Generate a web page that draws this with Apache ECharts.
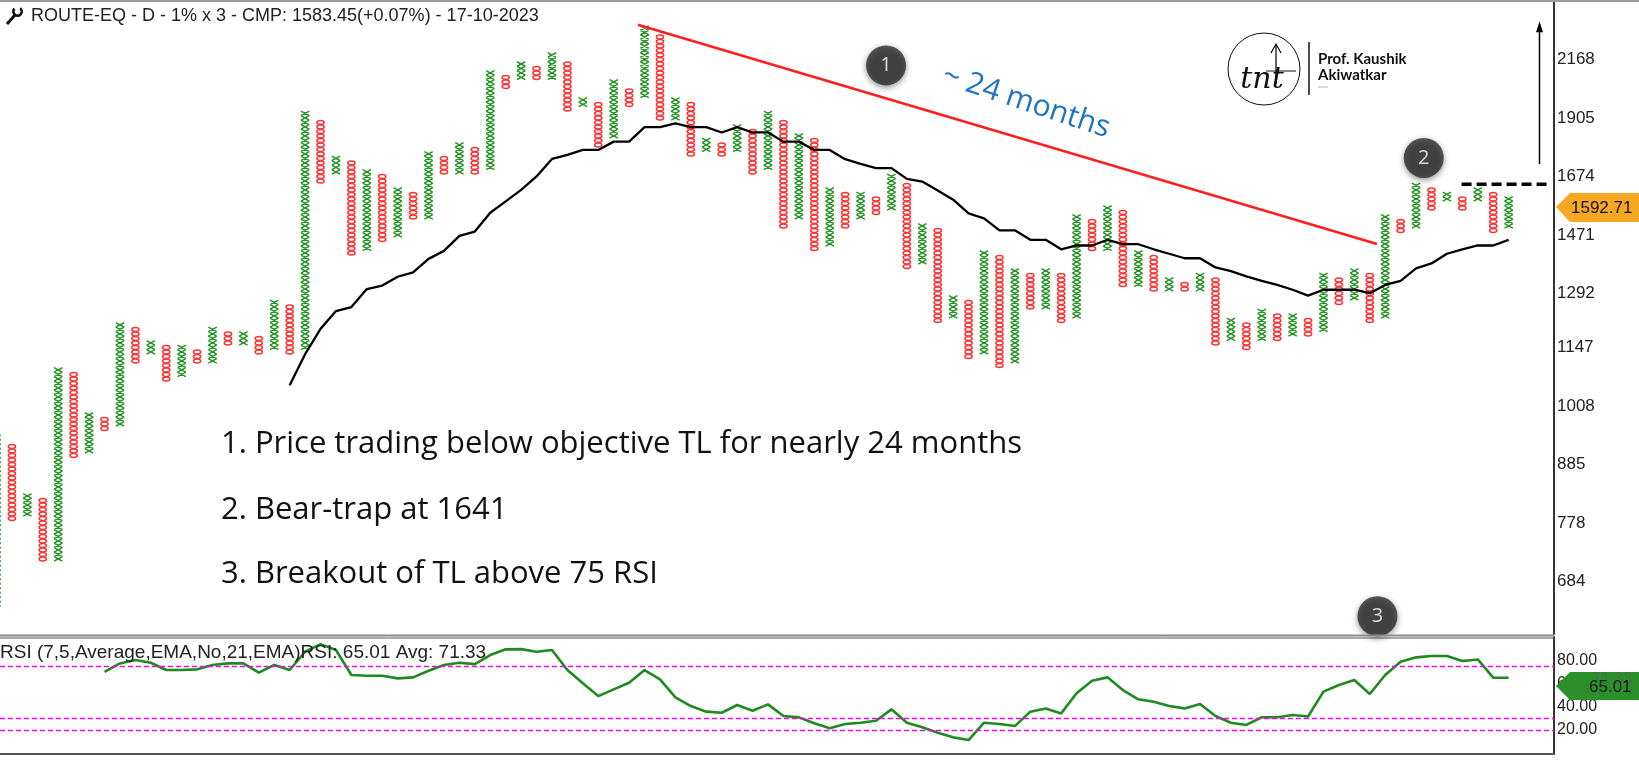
<!DOCTYPE html>
<html><head><meta charset="utf-8">
<script src="https://cdn.jsdelivr.net/npm/echarts@6/dist/echarts.min.js"></script>
<style>html,body{margin:0;padding:0;background:#fff;}#c{width:1639px;height:772px;}</style>
</head><body><div id="c"></div>
<script>
// ---------------- DATA ----------------
// Point & Figure columns (1% box, 3-box reversal). Column 0 is an X column, then they alternate.
const firstColumnIsX = true;
const colLow = [650,783,792,712,716,902,911,957,966,1104,
  1125,1069,1076,1103,1104,1149,1158,1125,1136,1125,
  1136,1655,1674,1413,1425,1455,1468,1517,1528,1674,
  1686,1688,1705,2041,2063,2063,2082,1929,1944,1790,
  1815,1962,1983,1887,1894,1756,1775,1756,1775,1688,
  1705,1499,1517,1425,1437,1499,1517,1543,1555,1367,
  1380,1217,1224,1120,1131,1095,1104,1243,1254,1217,
  1224,1415,1425,1306,1317,1295,1299,1295,1299,1158,
  1168,1146,1161,1168,1179,1179,1190,1264,1277,1214,
  1224,1483,1496,1555,1578,1555,1578,1483,1496];
const colHigh = [941,928,831,823,1099,1084,993,984,1214,1202,
  1166,1154,1154,1145,1202,1192,1192,1177,1276,1265,
  1929,1894,1756,1737,1705,1686,1640,1619,1775,1756,
  1809,1790,2116,2095,2167,2143,2190,2164,2000,1978,
  2063,2041,2325,2298,2000,1978,1830,1810,1880,1863,
  1928,1894,1845,1827,1640,1623,1623,1604,1674,1655,
  1514,1491,1284,1274,1425,1408,1364,1349,1366,1349,
  1545,1525,1572,1555,1425,1411,1339,1326,1353,1339,
  1222,1208,1252,1240,1240,1223,1353,1339,1366,1349,
  1545,1528,1655,1640,1623,1604,1640,1623,1604];
// Moving average (black line), starts at column 19
const maStart = 19;
const maValues = [1055,1130,1195,1243,1254,1305,1315,1341,1354,1395,
  1420,1468,1482,1545,1584,1625,1674,1740,1756,1775,
  1775,1808,1808,1867,1867,1882,1867,1867,1845,1867,
  1845,1845,1808,1808,1775,1775,1739,1721,1705,1705,
  1665,1655,1623,1590,1543,1526,1486,1486,1455,1455,
  1425,1437,1437,1455,1441,1441,1425,1411,1397,1397,
  1369,1358,1342,1329,1317,1303,1286,1303,1303,1303,
  1293,1317,1329,1366,1381,1411,1425,1437,1437,1455];
// RSI, starts at column 7
const rsiStart = 7;
const rsiValues = [70.0,77.3,80.2,77.9,71.6,71.6,72.2,75.9,77.3,77.3,
  69.3,75.9,71.6,87.3,93.9,88.8,67.3,66.7,66.7,64.4,
  65.3,71.0,75.9,77.9,76.7,84.5,89.4,89.6,87.3,88.8,
  71.6,60.2,49.2,55.0,60.7,71.6,63.6,48.1,40.6,35.8,
  34.9,41.5,36.6,42.1,32.1,30.9,25.8,21.5,25.2,26.3,
  28.0,37.8,26.3,22.4,17.7,13.7,11.4,26.3,25.2,23.4,
  35.8,38.6,34.3,51.6,62.4,65.3,54.4,46.4,44.4,40.7,
  38.6,42.4,32.1,26.3,24.4,31.0,31.0,33.0,31.6,53.0,
  58.7,63.0,51.0,67.3,78.7,82.5,83.6,83.6,79.3,80.7,
  65.0,65.01];
const priceTicks = [684,778,885,1008,1147,1292,1471,1674,1905,2168];
const rsiTicks = [20,40,60,80];
const rsiLevels = [75,30,20];
const trendLine = [[41.57,2341],[89.47,1442]];
const bearTrapLine = [[94.95,1645],[100.55,1645]];
const targetArrow = [[100,1721],[100,2331]];
const markers = [{label:'1', col:57.65, price:2140},{label:'2', col:92.5, price:1744},{label:'3', col:89.5, price:633}];
const titleText = 'ROUTE-EQ - D - 1% x 3 - CMP: 1583.45(+0.07%) - 17-10-2023';
const rsiTitle = 'RSI (7,5,Average,EMA,No,21,EMA)RSI: 65.01 Avg: 71.33';
const notes = ['1. Price trading below objective TL for nearly 24 months','2. Bear-trap at 1641','3. Breakout of TL above 75 RSI'];
const lastPrice = '1592.71', lastRsi = '65.01', avgRsi = '71.33';

// ---------------- CHART ----------------
const L = Math.log(1.01);
const ln = Math.log;
const xMin = 0.227, xMax = 100.94;
const pfData = colLow.map((lo, i) => [i, ln(lo), ln(colHigh[i]), ((i % 2 === 0) === firstColumnIsX) ? 1 : 0]);
const maData = maValues.map((v, i) => [maStart + i, ln(v)]);
const rsiData = rsiValues.map((v, i) => [rsiStart + i, v]);

const chart = echarts.init(document.getElementById('c'));
const lblFont = 'Liberation Sans, Arial, sans-serif';
const noteFont = '31px Open Sans, sans-serif';
const tx = (x, y, text, font, fill, extra) => Object.assign({type: 'text', x: x, y: y, z: 20,
  style: {text: text, fill: fill, font: font, textVerticalAlign: 'middle', verticalAlign: 'middle'}}, extra || {});
const option = {
  animation: false,
  backgroundColor: '#fff',
  grid: [
    {left: 0, right: 85, top: 2, height: 632, outerBoundsMode: 'none'},
    {left: 0, right: 85, top: 637, height: 116.3, outerBoundsMode: 'none'}
  ],
  xAxis: [
    {type: 'value', gridIndex: 0, min: xMin, max: xMax, show: false},
    {type: 'value', gridIndex: 1, min: xMin, max: xMax, show: false}
  ],
  yAxis: [
    {type: 'value', gridIndex: 0, position: 'right', min: ln(608.6), max: ln(2462),
      axisLine: {show: true, lineStyle: {color: '#333', width: 2}}, axisTick: {show: false}, splitLine: {show: false},
      axisLabel: {customValues: priceTicks.map(ln), formatter: v => String(Math.round(Math.exp(v))), color: '#222', fontSize: 17, fontFamily: lblFont, margin: 3}},
    {type: 'value', gridIndex: 1, position: 'right', min: 0, max: 100,
      axisLine: {show: true, lineStyle: {color: '#333', width: 2}}, axisTick: {show: false}, splitLine: {show: false},
      axisLabel: {customValues: rsiTicks, formatter: v => Number(v).toFixed(2), color: '#222', fontSize: 16, fontFamily: lblFont, margin: 3}}
  ],
  series: [
    {type: 'custom', xAxisIndex: 0, yAxisIndex: 0, data: pfData, encode: {x: 0, y: [1, 2]}, z: 2,
      renderItem: function (params, api) {
        const c = api.value(0), lo = api.value(1), hi = api.value(2), isX = api.value(3) === 1;
        const k0 = Math.round(lo / L + 0.5), k1 = Math.round(hi / L - 0.5);
        const x = api.coord([c, lo])[0];
        const bh = Math.abs(api.coord([c, 0])[1] - api.coord([c, L])[1]);
        const hh = bh * 0.5, hw = 4.2, rx = 3.6, ry = bh * 0.45;
        let d = '';
        for (let k = k0; k <= k1; k++) {
          const y = api.coord([c, k * L])[1];
          if (isX) d += 'M' + (x - hw) + ' ' + (y - hh) + 'L' + (x + hw) + ' ' + (y + hh) + 'M' + (x + hw) + ' ' + (y - hh) + 'L' + (x - hw) + ' ' + (y + hh);
          else d += 'M' + (x - rx) + ' ' + y + 'A' + rx + ' ' + ry + ' 0 1 0 ' + (x + rx) + ' ' + y + 'A' + rx + ' ' + ry + ' 0 1 0 ' + (x - rx) + ' ' + y + 'Z';
        }
        return {type: 'path', shape: {pathData: d}, style: {fill: 'none', stroke: isX ? '#249424' : '#ff2e2e', lineWidth: 1.5}};
      }},
    {type: 'line', xAxisIndex: 0, yAxisIndex: 0, data: maData, showSymbol: false, symbol: 'none', z: 3,
      lineStyle: {color: '#000', width: 2.3}},
    {type: 'line', xAxisIndex: 0, yAxisIndex: 0, data: trendLine.map(p => [p[0], ln(p[1])]), symbol: 'none', z: 3,
      lineStyle: {color: '#ff1f1f', width: 2.6}},
    {type: 'line', xAxisIndex: 0, yAxisIndex: 0, data: bearTrapLine.map(p => [p[0], ln(p[1])]), symbol: 'none', z: 3,
      lineStyle: {color: '#000', width: 3.5, type: [10, 5]}},
    {type: 'line', xAxisIndex: 0, yAxisIndex: 0, z: 3, showSymbol: true,
      data: [{value: [targetArrow[0][0], ln(targetArrow[0][1])], symbol: 'none'},
             {value: [targetArrow[1][0], ln(targetArrow[1][1])], symbol: 'triangle', symbolSize: [7, 11]}],
      lineStyle: {color: '#000', width: 1.5}, itemStyle: {color: '#000'}},
    {type: 'scatter', xAxisIndex: 0, yAxisIndex: 0, z: 10, clip: false,
      data: markers.map(m => ({value: [m.col, ln(m.price)], name: m.label})),
      symbolSize: 40,
      itemStyle: {color: '#2d2d2d', shadowBlur: 6, shadowColor: 'rgba(0,0,0,0.55)', shadowOffsetY: 2},
      label: {show: true, position: 'inside', formatter: p => p.name, color: '#fff', fontSize: 20, fontFamily: 'Open Sans, sans-serif'}},
    {type: 'line', xAxisIndex: 1, yAxisIndex: 1, data: rsiData, symbol: 'none', z: 3,
      lineStyle: {color: '#1f8a1f', width: 2.6},
      markLine: {silent: true, symbol: 'none', label: {show: false},
        lineStyle: {color: '#ff00ff', type: [5, 3], width: 1.4},
        data: rsiLevels.map(v => ({yAxis: v}))}}
  ],
  graphic: [
    {type: 'line', shape: {x1: 0, y1: 1, x2: 1639, y2: 1}, style: {stroke: '#9a9a9a', lineWidth: 2}, z: 20},
    {type: 'line', shape: {x1: 0, y1: 635.5, x2: 1554, y2: 635.5}, style: {stroke: '#8a8a8a', lineWidth: 2}, z: 20},
    {type: 'line', shape: {x1: 0, y1: 638, x2: 1554, y2: 638}, style: {stroke: '#555', lineWidth: 1}, z: 20},
    {type: 'line', shape: {x1: 0, y1: 754, x2: 1555, y2: 754}, style: {stroke: '#555', lineWidth: 2}, z: 20},
    // wrench icon
    {type: 'line', shape: {x1: 7, y1: 24, x2: 15, y2: 15}, style: {stroke: '#111', lineWidth: 3}, z: 20},
    {type: 'arc', shape: {cx: 17.5, cy: 11.5, r: 4.2, startAngle: -0.9, endAngle: 3.9, clockwise: true}, style: {stroke: '#111', fill: 'none', lineWidth: 2.6}, z: 20},
    tx(31, 16, titleText, '18px ' + lblFont, '#222'),
    tx(221, 444, notes[0], noteFont, '#111'),
    tx(221, 510, notes[1], noteFont, '#111'),
    tx(221, 574, notes[2], noteFont, '#111'),
    {type: 'text', x: 1026, y: 102, rotation: -0.32, z: 20, style: {text: '~ 24 months', fill: '#1c72c4', font: '30px Open Sans, sans-serif', textAlign: 'center', textVerticalAlign: 'middle', verticalAlign: 'middle'}},
    // logo
    {type: 'circle', shape: {cx: 1264, cy: 69, r: 36}, style: {fill: 'none', stroke: '#111', lineWidth: 1}, z: 20},
    {type: 'text', x: 1262, y: 80, z: 20, style: {text: 'tnt', fill: '#111', font: 'italic 30px DejaVu Serif, serif', textAlign: 'center', textVerticalAlign: 'middle', verticalAlign: 'middle'}},
    {type: 'polyline', shape: {points: [[1276, 84], [1276, 45]]}, style: {stroke: '#111', lineWidth: 1.3}, z: 20},
    {type: 'polyline', shape: {points: [[1271, 53], [1276, 44], [1281, 53]]}, style: {stroke: '#111', fill: 'none', lineWidth: 1.3}, z: 20},
    {type: 'line', shape: {x1: 1266, y1: 71, x2: 1296, y2: 71}, style: {stroke: '#111', lineWidth: 1}, z: 20},
    {type: 'line', shape: {x1: 1309, y1: 42, x2: 1309, y2: 95}, style: {stroke: '#111', lineWidth: 1.5}, z: 20},
    tx(1318, 59, 'Prof. Kaushik', 'bold 15px Lato, sans-serif', '#111'),
    tx(1318, 75, 'Akiwatkar', 'bold 15px Lato, sans-serif', '#111'),
    {type: 'line', shape: {x1: 1318, y1: 87, x2: 1328, y2: 87}, style: {stroke: '#bbb', lineWidth: 1}, z: 20},
    // RSI title
    tx(0, 653, rsiTitle, '19px ' + lblFont, '#222'),
    // price tag
    {type: 'polygon', shape: {points: [[1556, 207], [1570, 193], [1639, 193], [1639, 222], [1570, 222]]}, style: {fill: '#f7a823'}, z: 30},
    tx(1571, 208, lastPrice, '17px ' + lblFont, '#111', {z: 31}),
    // RSI tag
    {type: 'polygon', shape: {points: [[1556, 686], [1570, 672], [1639, 672], [1639, 700], [1570, 700]]}, style: {fill: '#2b8f2b'}, z: 30},
    tx(1592, 680, avgRsi, '16px ' + lblFont, 'rgba(90,90,90,0.45)', {z: 31}),
    tx(1589, 687, lastRsi, '17px ' + lblFont, '#1a1a1a', {z: 32})
  ]
};
chart.setOption(option);
</script>
</body></html>
